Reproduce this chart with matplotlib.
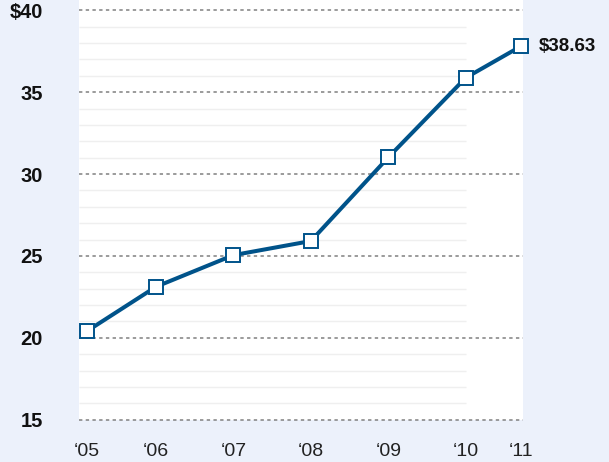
import matplotlib
matplotlib.use("Agg")
import matplotlib.pyplot as plt

years = [2005.105, 2006, 2007, 2008, 2009, 2010, 2010.715]
xlabels = ["\u201805", "\u201806", "\u201807", "\u201808", "\u201809", "\u201810", "\u201811"]
values = [20.40, 23.12, 25.05, 25.91, 31.02, 35.88, 37.81]
end_label = "$38.63"
yticks = [15, 20, 25, 30, 35, 40]
ylabels = ["15", "20", "25", "30", "35", "$40"]
minor_ys = [v for v in range(16, 40) if v % 5 != 0]

plt.rcParams['font.family'] = ["Liberation Sans", "DejaVu Sans"]

bg = "#ECF1FB"
blue = "#00538A"

fig = plt.figure(figsize=(6.09, 4.62), dpi=100, facecolor=bg)
ax = fig.add_axes([79/609, 42.3/462, 444/609, 419.7/462])
ax.set_facecolor("white")
x0, x1 = 2005.005, 2010.74
ax.set_xlim(x0, x1)
ax.set_ylim(15, 40.63)

ax.hlines(minor_ys, x0, 2010, colors="#EFEFEF", lw=1.0, zorder=1)
ax.hlines(yticks, x0, x1, colors="#808080", lw=1.1, linestyles=(0, (2.2, 2.2)), zorder=2,
          clip_on=False)

ax.plot(years, values, color=blue, lw=2.9, marker="s", ms=10, mfc="white",
        mec=blue, mew=1.4, zorder=5, clip_on=False)

ax.annotate(end_label, (years[-1], values[-1]), xytext=(13, 0), textcoords="offset points",
            ha="left", va="center", fontsize=13.5, fontweight="bold", color="#111111",
            annotation_clip=False)

for s in ax.spines.values():
    s.set_visible(False)
ax.set_xticks(years)
ax.set_xticklabels(xlabels, fontsize=14, color="#222222")
ax.set_yticks(yticks)
ax.set_yticklabels(ylabels, fontsize=14.5, fontweight="bold", color="#111111")
ax.tick_params(axis="x", length=0, pad=17)
ax.tick_params(axis="y", length=0, pad=26)

fig.savefig("out.png", dpi=100, facecolor=bg)
